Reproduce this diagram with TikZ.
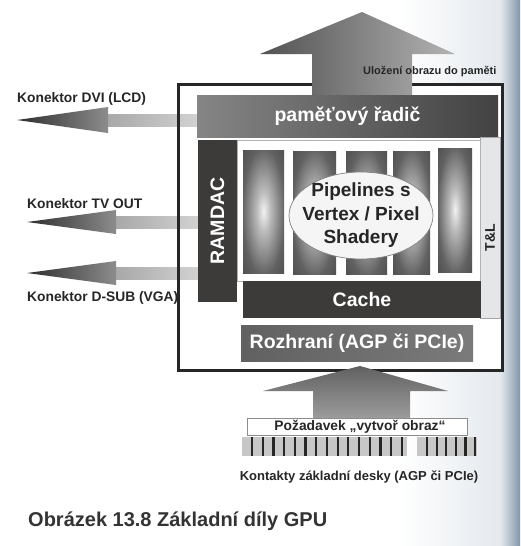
\documentclass[tikz,border=0pt]{standalone}
\usepackage{fontspec}
\setmainfont{Liberation Sans}
\usetikzlibrary{shapes.geometric}
\definecolor{bgA}{HTML}{E4E9EE}
\definecolor{bgB}{HTML}{8397AA}
\definecolor{darkbar}{HTML}{3C3B3A}
\definecolor{txt}{HTML}{262626}
\definecolor{tlfill}{HTML}{E4E6E8}
\pgfdeclareradialshading{barglow}{\pgfpoint{0bp}{0bp}}{color(0bp)=(black!5); color(9bp)=(black!28); color(26bp)=(black!62); color(50bp)=(black!78)}
\tikzset{
  blk/.style={anchor=north west, inner sep=0pt, outer sep=0pt},
  barlabel/.style={text=white, font=\bfseries\fontsize{19.5}{23}\selectfont, inner sep=0pt},
  lbl/.style={text=txt, font=\bfseries\fontsize{13.8}{16}\selectfont, inner sep=0pt, anchor=base west},
  pipebar/.style={blk, shading=barglow, minimum height=123pt},
}
\begin{document}
\begin{tikzpicture}[x=1pt,y=-1pt]
\useasboundingbox (0,0) rectangle (520,546);
% page background with scan shading at the right edge
\fill[white] (0,0) rectangle (520,546);
\shade[left color=white, right color=bgA] (400,0) rectangle (500,546);
\shade[left color=bgA, right color=bgB] (500,0) rectangle (520,546);

% frame (fill first)
\node[blk, fill=white, minimum width=324pt, minimum height=286pt] (frame) at (178,84) {};

% left connector arrows
\shade[left color=black!34, right color=black!18] (108,114) rectangle (197,126);
\shade[left color=black!82, right color=black!45] (17,120) -- (108,107) -- (108,133) -- cycle;
\shade[left color=black!34, right color=black!18] (116,216) rectangle (198,228);
\shade[left color=black!82, right color=black!45] (27,222) -- (116,210) -- (116,234) -- cycle;
\shade[left color=black!34, right color=black!18] (116,267) rectangle (198,279);
\shade[left color=black!82, right color=black!45] (27,273) -- (116,261) -- (116,285) -- cycle;

% frame stroke
\draw[line width=3pt, draw=black!85] (frame.north west) rectangle (frame.south east);

% top arrow
\shade[left color=black!68, right color=black!30]
  (312,98) -- (312,54) -- (260,54) -- (362,12) -- (455,54) -- (412,54) -- (412,98) -- cycle;
\node[text=txt, font=\bfseries\fontsize{11}{13}\selectfont, inner sep=0pt, anchor=base west] (store) at (363,74) {Uložení obrazu do paměti};

% memory controller
\node[blk, left color=black!48, right color=black!74, minimum width=301pt, minimum height=42pt] (mc) at (197,95) {};
\node[barlabel] (mctext) at (mc.center) {paměťový řadič};

% RAMDAC
\node[blk, fill=darkbar, minimum width=39pt, minimum height=162pt] (ramdac) at (198,140) {};
\node[barlabel, rotate=90] (ramdactext) at (ramdac.center) {RAMDAC};

% T&L column
\node[blk, fill=tlfill, draw=black!35, line width=0.6pt, minimum width=20pt, minimum height=181pt] (tl) at (480,137) {};
\node[text=txt, font=\bfseries\fontsize{14}{16}\selectfont, rotate=90, inner sep=0pt] (tltext) at ([yshift=-10pt]tl.center) {T\&L};

% pipelines area
\node[blk, fill=white, draw=black!30, line width=0.6pt, minimum width=243pt, minimum height=141pt] (area) at (237,140) {};
\node[pipebar, minimum width=41pt] (p1) at (243,150) {};
\node[pipebar, minimum width=43pt] (p2) at (293,151) {};
\node[pipebar, minimum width=41pt] (p3) at (346,151) {};
\node[pipebar, minimum width=37pt] (p4) at (393,151) {};
\node[pipebar, minimum width=34pt, minimum height=124pt] (p5) at (438,148) {};
\node[ellipse, fill=black!4, draw=black!50, line width=0.7pt, minimum width=144pt, minimum height=87pt, inner sep=0pt] (shader) at (361,215.5) {};
\node[text=txt, font=\bfseries\fontsize{19}{23.5}\selectfont, align=center, inner sep=0pt] (shadertext) at (shader.center) {Pipelines s\\Vertex / Pixel\\Shadery};

% cache
\node[blk, fill=darkbar, minimum width=238pt, minimum height=37pt] (cache) at (243,281) {};
\node[barlabel] (cachetext) at (cache.center) {Cache};

% interface
\node[blk, left color=black!62, right color=black!52, minimum width=232pt, minimum height=36pt] (iface) at (241,325) {};
\node[barlabel] (ifacetext) at (iface.center) {Rozhraní (AGP či PCIe)};

% bottom arrow
\shade[top color=black!62, bottom color=black!38]
  (313,420) -- (313,391) -- (263,391) -- (360,366) -- (448,391) -- (410,391) -- (410,420) -- cycle;

% request box
\node[blk, fill=white, draw=black!45, line width=0.6pt, minimum width=220pt, minimum height=17pt] (req) at (247,418) {};
\node[text=txt, font=\bfseries\fontsize{13.8}{16}\selectfont, inner sep=0pt] (reqtext) at ([xshift=3pt]req.center) {Požadavek „vytvoř obraz“};

% contacts
\node[blk, fill=black!22, minimum width=165pt, minimum height=19pt] (c1) at (242,437) {};
\node[blk, fill=black!22, minimum width=60pt, minimum height=19pt] (c2) at (417,437) {};
\foreach \i in {0,...,14} \draw[line width=2.2pt, draw=black!85] ([xshift={10+10.7*\i}]c1.north west) -- ([xshift={10+10.7*\i}]c1.south west);
\foreach \i in {0,...,5} \draw[line width=2.2pt, draw=black!85] ([xshift={10+9.6*\i}]c2.north west) -- ([xshift={10+9.6*\i}]c2.south west);
\node[text=txt, font=\bfseries\fontsize{13}{15}\selectfont, inner sep=0pt, anchor=base] (contacts) at (359,480) {Kontakty základní desky (AGP či PCIe)};

% connector labels
\node[lbl] (dvi) at (17,102) {Konektor DVI (LCD)};
\node[lbl] (tv) at (27,208) {Konektor TV OUT};
\node[lbl] (dsub) at (27,301) {Konektor D-SUB (VGA)};

% caption
\node[text=black!80, font=\bfseries\fontsize{20}{24}\selectfont, inner sep=0pt, anchor=base west] (caption) at (28,526) {Obrázek 13.8 Základní díly GPU};
\end{tikzpicture}
\end{document}
